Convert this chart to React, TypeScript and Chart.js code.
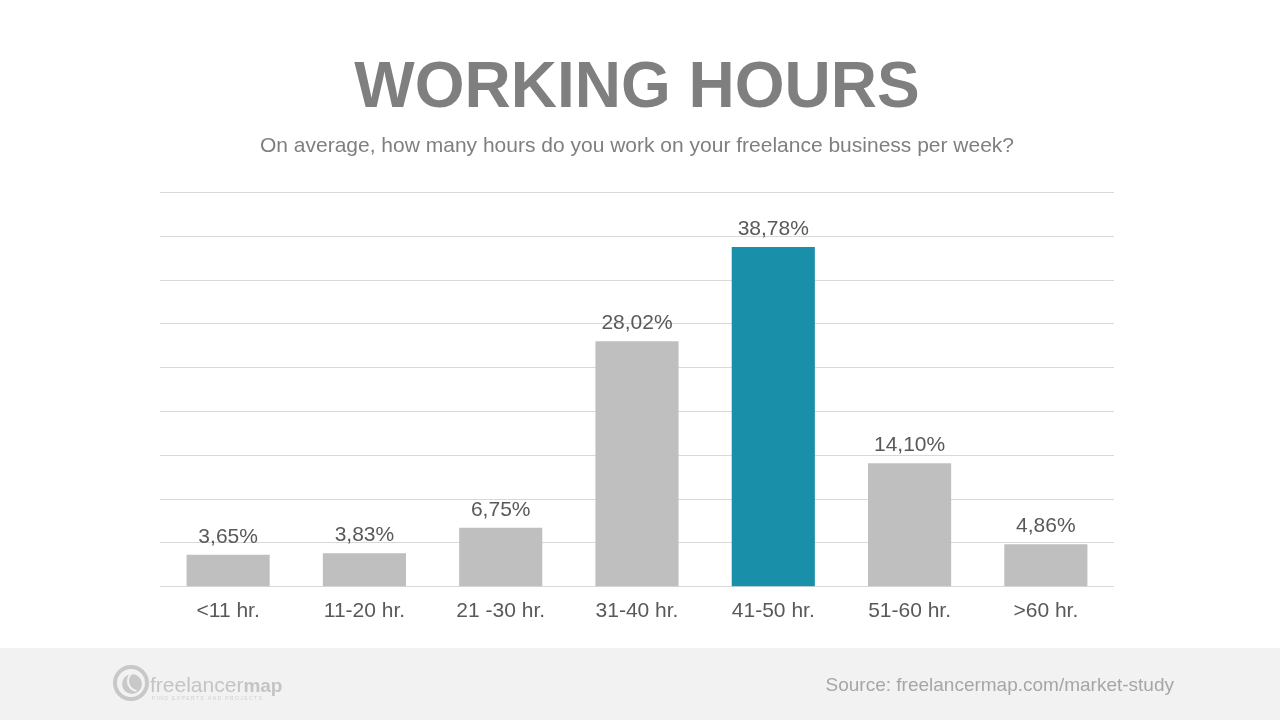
import React, { useEffect, useRef } from "react";
import { Chart, registerables } from "chart.js";

Chart.register(...registerables);

const categories = ["<11 hr.", "11-20 hr.", "21 -30 hr.", "31-40 hr.", "41-50 hr.", "51-60 hr.", ">60 hr."];
const shares = [3.65, 3.83, 6.75, 28.02, 38.78, 14.1, 4.86];
const highlightIndex = 4;
const titleText = "WORKING HOURS";
const subtitleText = "On average, how many hours do you work on your freelance business per week?";
const sourceText = "Source: freelancermap.com/market-study";

const FONT = "'Liberation Sans', Arial, sans-serif";

const fmt = (v: number) => v.toFixed(2).replace(".", ",") + "%";

const valueLabels = {
  id: "valueLabels",
  afterDatasetsDraw(chart: any) {
    const ctx = chart.ctx;
    const meta = chart.getDatasetMeta(0);
    ctx.save();
    ctx.font = `21px ${FONT}`;
    ctx.fillStyle = "#595959";
    ctx.textAlign = "center";
    ctx.textBaseline = "alphabetic";
    meta.data.forEach((bar: any, i: number) => {
      ctx.fillText(fmt(shares[i]), bar.x, bar.y - 12);
    });
    ctx.restore();
  },
};

const footer = {
  id: "footer",
  afterDraw(chart: any) {
    const ctx = chart.ctx;
    const W = chart.width;
    const H = chart.height;
    ctx.save();
    ctx.fillStyle = "#f2f2f2";
    ctx.fillRect(0, 648, W, H - 648);
    // source text
    ctx.font = `19px ${FONT}`;
    ctx.fillStyle = "#a6a6a6";
    ctx.textAlign = "right";
    ctx.textBaseline = "alphabetic";
    ctx.fillText(sourceText, 1174, 691);
    // logo
    const cx = 131, cy = 683;
    ctx.strokeStyle = "#c8c8c8";
    ctx.fillStyle = "#c8c8c8";
    ctx.lineWidth = 4;
    ctx.beginPath();
    ctx.arc(cx, cy, 16, 0, 2 * Math.PI);
    ctx.stroke();
    ctx.beginPath();
    ctx.arc(cx + 1, cy + 1, 10, 0, 2 * Math.PI);
    ctx.fill();
    ctx.lineWidth = 2;
    ctx.strokeStyle = "#f2f2f2";
    ctx.beginPath();
    ctx.arc(cx + 7, cy - 2, 10, 0.55 * Math.PI, 1.35 * Math.PI);
    ctx.stroke();
    ctx.textAlign = "left";
    ctx.fillStyle = "#c4c4c4";
    ctx.font = `21px ${FONT}`;
    ctx.fillText("freelancer", 150, 692);
    const w1 = ctx.measureText("freelancer").width;
    ctx.font = `bold 19px ${FONT}`;
    ctx.fillText("map", 150 + w1, 692);
    ctx.font = `5px ${FONT}`;
    ctx.fillStyle = "#cfcfcf";
    ctx.fillText("F I N D   E X P E R T S   A N D   P R O J E C T S", 152, 700);
    ctx.restore();
  },
};

export default function App() {
  const ref = useRef<HTMLCanvasElement | null>(null);
  useEffect(() => {
    if (!ref.current) return;
    const chart = new Chart(ref.current, {
      type: "bar",
      data: {
        labels: categories,
        datasets: [
          {
            data: shares,
            backgroundColor: shares.map((_, i) => (i === highlightIndex ? "#1a8faa" : "#bfbfbf")),
            barPercentage: 0.61,
            categoryPercentage: 1,
          },
        ],
      },
      options: {
        animation: false,
        responsive: false,
        layout: { padding: { left: 160, right: 166, top: 0, bottom: 84 } },
        plugins: {
          legend: { display: false },
          tooltip: { enabled: false },
          title: {
            display: true,
            text: titleText,
            color: "#7f7f7f",
            font: { family: FONT, size: 64, weight: "bold", lineHeight: 1.2 },
            padding: { top: 51, bottom: 6 },
          },
          subtitle: {
            display: true,
            text: subtitleText,
            color: "#7f7f7f",
            font: { family: FONT, size: 21, lineHeight: 1.2 },
            padding: { top: 0, bottom: 33.5 },
          },
        },
        scales: {
          x: {
            grid: { display: false, drawTicks: false },
            border: { display: false },
            ticks: { color: "#595959", font: { family: FONT, size: 21, lineHeight: 1.2 }, padding: 12 },
          },
          y: {
            min: 0,
            max: 45,
            grid: { color: "#d9d9d9", drawTicks: false, lineWidth: 1 },
            border: { display: false },
            ticks: { display: false, stepSize: 5 },
          },
        },
      },
      plugins: [valueLabels, footer],
    });
    return () => chart.destroy();
  }, []);
  return (
    <div style={{ position: "fixed", left: 0, top: 0, width: 1280, height: 720, background: "#ffffff" }}>
      <canvas ref={ref} width={1280} height={720} />
    </div>
  );
}
